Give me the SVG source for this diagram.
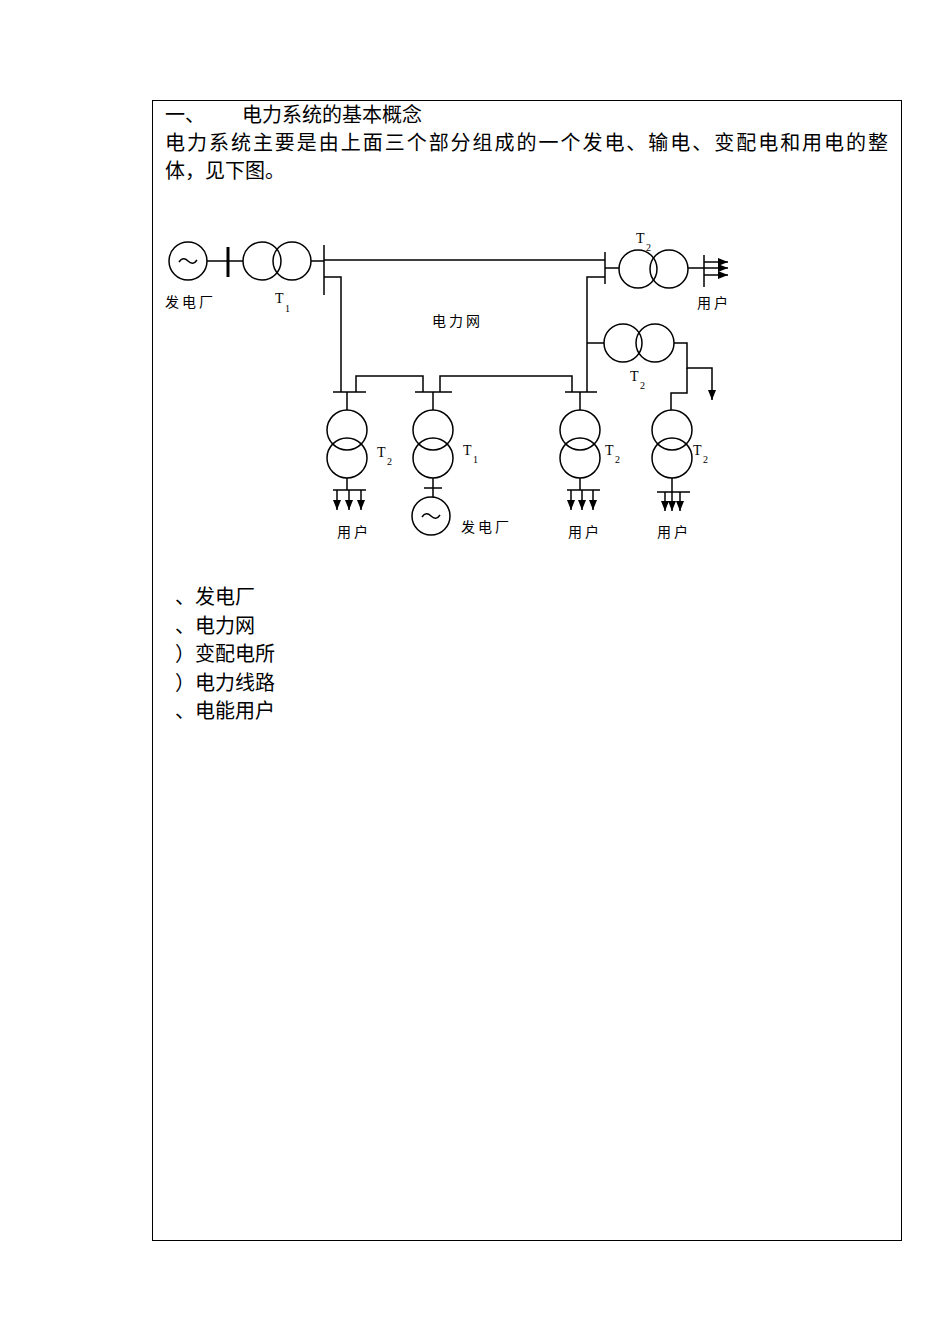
<svg xmlns="http://www.w3.org/2000/svg" width="950" height="1343" viewBox="0 0 950 1343">
<style>
.l{stroke:#000;stroke-width:1.5;fill:none}
.b{stroke:#000;stroke-width:3;fill:none}
.c{stroke:#000;stroke-width:1.5;fill:none}
.t{font-family:"Liberation Serif","Noto Sans CJK SC",serif;font-size:20px;fill:#000}
.s{font-family:"Liberation Serif","Noto Sans CJK SC",serif;font-size:14px;fill:#000;letter-spacing:3px}
.sub{font-family:"Liberation Serif",serif;font-size:10px;fill:#000}
</style>
<defs>
<marker id="ar" markerWidth="10" markerHeight="8" refX="10" refY="4" orient="auto" markerUnits="userSpaceOnUse"><path d="M0,0 L10,4 L0,8 Z" fill="#000"/></marker>
</defs>
<rect x="152.5" y="100.5" width="749" height="1140" fill="none" stroke="#000" stroke-width="1"/>
<text class="t" x="165" y="122">一、</text>
<text class="t" x="242" y="122">电力系统的基本概念</text>
<text class="t" x="165" y="150" textLength="723">电力系统主要是由上面三个部分组成的一个发电、输电、变配电和用电的整</text>
<text class="t" x="165" y="178">体，见下图。</text>
<g id="list">
<text class="t" x="175" y="604">、发电厂</text>
<text class="t" x="175" y="633">、电力网</text>
<text class="t" x="175" y="661">）变配电所</text>
<text class="t" x="175" y="690">）电力线路</text>
<text class="t" x="175" y="718">、电能用户</text>
</g>
<g id="gen1"><circle class="c" cx="188" cy="261" r="19"/><path class="l" d="M179,262 q4,-6 9,-1 q5,5 9,-1"/><text class="s" x="165" y="307">发电厂</text></g>
<g id="t1top"><circle class="c" cx="262" cy="261" r="19"/><circle class="c" cx="292" cy="261" r="19"/><text class="s" x="275" y="303">T</text><text class="sub" x="285" y="312">1</text></g>
<g id="t2top"><circle class="c" cx="638" cy="269" r="19"/><circle class="c" cx="669" cy="269" r="19"/><text class="s" x="636" y="243">T</text><text class="sub" x="646" y="251">2</text><text class="s" x="697" y="308">用户</text></g>
<g id="t2mid"><circle class="c" cx="623" cy="343" r="19"/><circle class="c" cx="655" cy="343" r="19"/><text class="s" x="630" y="381">T</text><text class="sub" x="640" y="389">2</text></g>
<g id="netlabel"><text class="s" x="432" y="326">电力网</text></g>
<g id="t2a"><circle class="c" cx="347" cy="430" r="20"/><circle class="c" cx="347" cy="458" r="20"/><text class="s" x="377" y="457">T</text><text class="sub" x="387" y="465">2</text><text class="s" x="337" y="537">用户</text></g>
<g id="t1b"><circle class="c" cx="433" cy="430" r="20"/><circle class="c" cx="433" cy="458" r="20"/><text class="s" x="463" y="455">T</text><text class="sub" x="473" y="463">1</text></g>
<g id="gen2"><circle class="c" cx="431" cy="516" r="19"/><path class="l" d="M422,517 q4,-6 9,-1 q5,5 9,-1"/><text class="s" x="461" y="532">发电厂</text></g>
<g id="t2b"><circle class="c" cx="580" cy="430" r="20"/><circle class="c" cx="580" cy="458" r="20"/><text class="s" x="605" y="455">T</text><text class="sub" x="615" y="463">2</text><text class="s" x="568" y="537">用户</text></g>
<g id="t2c"><circle class="c" cx="672" cy="430" r="20"/><circle class="c" cx="672" cy="458" r="20"/><text class="s" x="693" y="455">T</text><text class="sub" x="703" y="463">2</text><text class="s" x="657" y="537">用户</text></g>
<g id="connectors">
<path class="l" d="M207,261 H243 M311,261 H324 M324,260 H605"/>
<path class="b" d="M228,247 V277"/>
<path class="l" d="M324,245 V295 M324,277 H341 V392 M333,392 H366 M356,392 V376 H423 V392 M415,392 H452 M440,392 V376 H572 V392 M565,392 H597 M587,392 V277 H605 M605,252 V284 M605,268 H619 M587,343 H604"/>
<path class="l" d="M688,268 H704 M704,255 V287"/>
<path class="l" d="M704,262 H728" marker-end="url(#ar)"/>
<path class="l" d="M704,268 H728" marker-end="url(#ar)"/>
<path class="l" d="M704,275 H728" marker-end="url(#ar)"/>
<path class="l" d="M674,343 H687 V368 H712 V400" marker-end="url(#ar)"/>
<path class="l" d="M687,368 V393 H671 V410"/>
<path class="l" d="M347,392 V410 M347,478 V490 M333,490 H366"/>
<path class="l" d="M337,490 V510" marker-end="url(#ar)"/>
<path class="l" d="M349,490 V510" marker-end="url(#ar)"/>
<path class="l" d="M361,490 V510" marker-end="url(#ar)"/>
<path class="l" d="M433,392 V410 M433,478 V497 M424,488 H442"/>
<path class="l" d="M580,392 V410 M580,478 V490 M567,490 H600"/>
<path class="l" d="M571,490 V510" marker-end="url(#ar)"/>
<path class="l" d="M582,490 V510" marker-end="url(#ar)"/>
<path class="l" d="M593,490 V510" marker-end="url(#ar)"/>
<path class="l" d="M672,478 V492 M657,492 H690"/>
<path class="l" d="M665,492 V511" marker-end="url(#ar)"/>
<path class="l" d="M672,492 V511" marker-end="url(#ar)"/>
<path class="l" d="M680,492 V511" marker-end="url(#ar)"/>
</g>
</svg>
